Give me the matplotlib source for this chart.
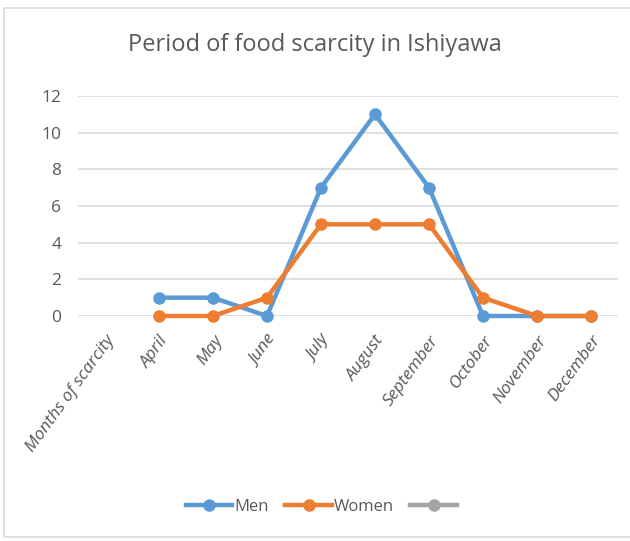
import numpy as np
import matplotlib.pyplot as plt
from matplotlib import font_manager

names = {f.name for f in font_manager.fontManager.ttflist}
font = 'Liberation Sans Narrow' if 'Liberation Sans Narrow' in names else 'Open Sans'
plt.rcParams['font.family'] = [font, 'DejaVu Sans']

categories = ['Months of scarcity', 'April', 'May', 'June', 'July', 'August',
              'September', 'October', 'November', 'December']
men = [np.nan, 1, 1, 0, 7, 11, 7, 0, 0, 0]
women = [np.nan, 0, 0, 1, 5, 5, 5, 1, 0, 0]

blue = '#5B9BD5'
orange = '#ED7D31'
gray = '#A5A5A5'
text_c = '#595959'

fig = plt.figure(figsize=(6.30, 5.41), dpi=100)
ax = fig.add_axes([78 / 630, 1 - 316 / 541, 540 / 630, 220 / 541])

x = np.arange(len(categories))
ax.plot(x, men, '-o', color=blue, lw=3.2, ms=8, label='Men', clip_on=False, zorder=3)
ax.plot(x, women, '-o', color=orange, lw=3.2, ms=8, label='Women', clip_on=False, zorder=3)
ax.plot([], [], '-o', color=gray, lw=3.2, ms=8, label=' ')

ax.set_xlim(-0.5, len(categories) - 0.5)
ax.set_ylim(0, 12)
ax.set_yticks(range(0, 13, 2))
ax.grid(axis='y', color='#D9D9D9', lw=1.2)
ax.set_axisbelow(True)
for s in ax.spines.values():
    s.set_visible(False)
ax.tick_params(length=0, labelsize=12.5, colors=text_c, pad=12)

ax.set_xticks(x)
ax.set_xticklabels(categories, rotation=54, ha='right', rotation_mode='anchor',
                   style='italic', fontsize=12.5, color=text_c)
ax.tick_params(axis='x', pad=12)

fig.text(0.5, 1 - 45 / 541, 'Period of food scarcity in Ishiyawa', ha='center',
         va='center', fontsize=17, color=text_c)

leg = fig.legend(loc='center', bbox_to_anchor=(0.515, 1 - 507 / 541), ncol=3,
                 frameon=False, fontsize=12, handlelength=2.8, handletextpad=0.1,
                 columnspacing=1.0, labelcolor=text_c)

# outer chart border
fig.patches.append(plt.Rectangle((4 / 630, 4 / 541), 1.2, 1 - 8 / 541 - 4 / 541,
                                 transform=fig.transFigure, fill=False,
                                 ec='#D9D9D9', lw=1.2))

fig.savefig('out.png', dpi=100)
